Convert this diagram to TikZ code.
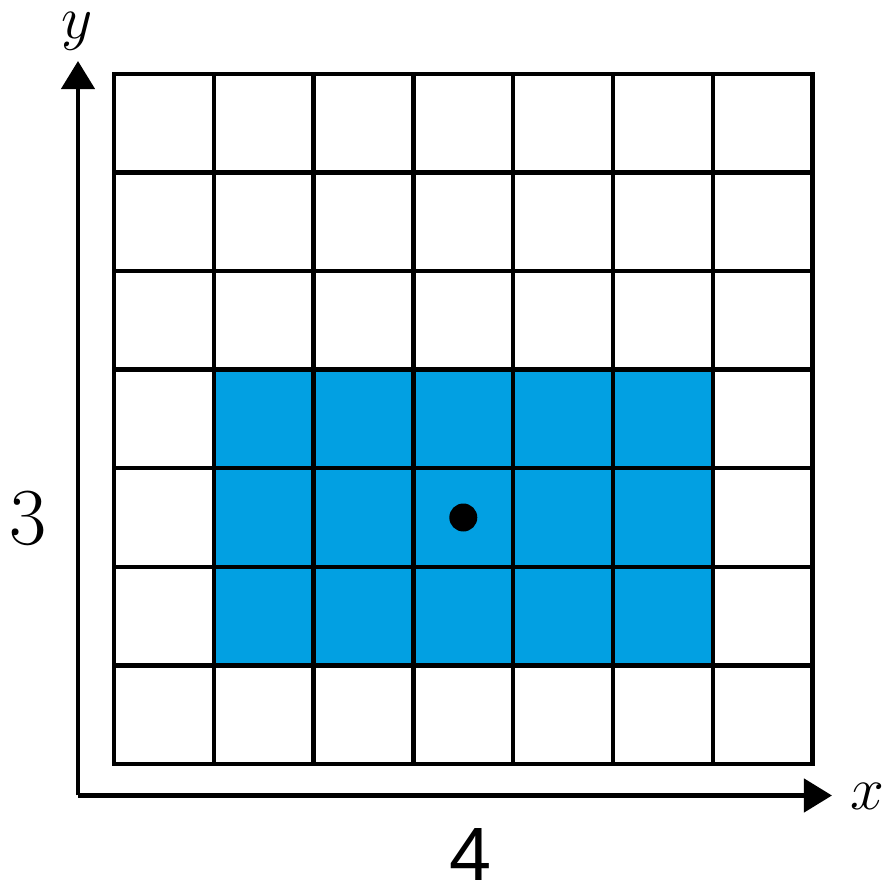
\documentclass[tikz,border=0pt]{standalone}
\usepackage{fontspec}
\newfontfamily\numsans{Liberation Sans}
\usetikzlibrary{arrows.meta,positioning}
\definecolor{cellblue}{RGB}{2,160,226}
\tikzset{
  gridln/.style={line width=1.3pt,line cap=rect},
  bluecell/.style={fill=cellblue,draw=none},
  axarr/.style={-{Triangle[length=0.28cm,width=0.33cm]},line width=1.3pt},
  axlbl/.style={font=\fontsize{18}{20}\selectfont,inner sep=0pt},
  numlbl/.style={inner sep=0pt},
  ctrdot/.style={circle,fill=black,inner sep=0pt,minimum size=0.28cm}
}
\begin{document}
\begin{tikzpicture}
  \useasboundingbox (0,0) rectangle (8.85,8.85);
  % cells
  \begin{scope}[shift={(1.14,1.21)},xscale=0.998,yscale=0.986]
    \fill[bluecell] (1,1) rectangle (6,4);
    \draw[gridln] (0,0) grid (7,7);
    \node[ctrdot] (dot) at (3.5,2.5) {};
  \end{scope}
  % axes
  \coordinate (orig) at (0.78,0.895);
  \coordinate (ytip) at (0.78,8.24);
  \coordinate (xtip) at (8.32,0.895);
  \draw[axarr] (orig) -- (ytip);
  \draw[axarr] (orig) -- (xtip);
  \node[axlbl] (ylbl) at (0.77,8.54) {$y$};
  \node[axlbl] (xlbl) at (8.67,0.89) {$x$};
  \node[numlbl,font=\fontsize{23}{25}\selectfont] (hgt) at (0.28,3.67) {3};
  \node[numlbl,font=\numsans\fontsize{21.5}{24}\selectfont] (wid) at (4.71,0.30) {4};
\end{tikzpicture}
\end{document}
